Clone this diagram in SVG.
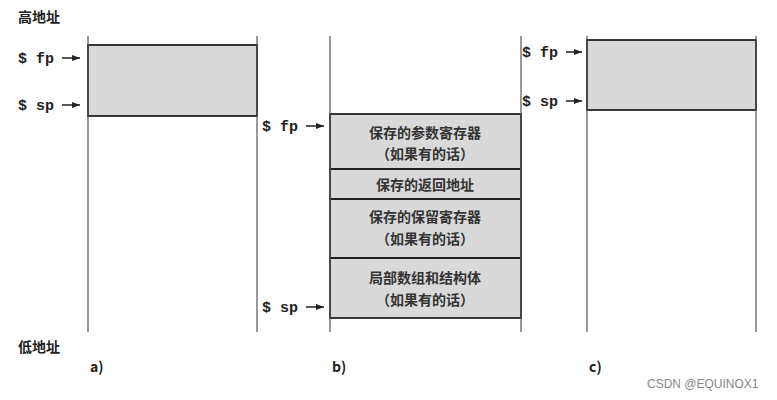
<svg xmlns="http://www.w3.org/2000/svg" width="777" height="400" viewBox="0 0 777 400">
<defs>
<marker id="ah" markerWidth="8" markerHeight="6" refX="8" refY="3" orient="auto" markerUnits="userSpaceOnUse"><path d="M0,0 L8,3 L0,6 Z" fill="#222"/></marker>
<style>
.v{stroke:#555;stroke-width:1.2}
.box{fill:#d9d9d9;stroke:#222;stroke-width:1.8}
.t{font-family:"Noto Sans CJK SC","Liberation Sans",sans-serif;font-size:14px;font-weight:bold;fill:#222}
.c{font-family:"Noto Sans CJK SC",sans-serif;font-size:14px;font-weight:bold;fill:#333;text-anchor:middle}
.r{font-family:"Liberation Mono","Noto Sans CJK SC",monospace;font-size:15px;font-weight:bold;fill:#222}
.a{stroke:#222;stroke-width:1.5;marker-end:url(#ah)}
</style>
</defs>
<rect width="777" height="400" fill="#fff"/>
<text class="t" x="18" y="22">高地址</text>
<text class="t" x="18" y="352">低地址</text>
<g id="panel-a">
<rect class="box" x="88" y="45" width="169" height="71"/>
<line class="v" x1="88" y1="36" x2="88" y2="332"/>
<line class="v" x1="257" y1="36" x2="257" y2="332"/>
<text class="r" x="18" y="63">$ fp</text>
<text class="r" x="18" y="110">$ sp</text>
<text class="t" x="90" y="372">a)</text>
</g>
<g id="panel-b">
<rect class="box" x="330" y="114" width="191" height="204"/>
<line class="box" x1="330" y1="169" x2="521" y2="169"/>
<line class="box" x1="330" y1="199" x2="521" y2="199"/>
<line class="box" x1="330" y1="258" x2="521" y2="258"/>
<line class="v" x1="330" y1="36" x2="330" y2="332"/>
<line class="v" x1="521" y1="36" x2="521" y2="332"/>
<text class="c" x="425" y="138">保存的参数寄存器</text>
<text class="c" x="425" y="159">（如果有的话）</text>
<text class="c" x="425" y="190">保存的返回地址</text>
<text class="c" x="425" y="222">保存的保留寄存器</text>
<text class="c" x="425" y="244">（如果有的话）</text>
<text class="c" x="425" y="283">局部数组和结构体</text>
<text class="c" x="425" y="305">（如果有的话）</text>
<text class="r" x="262" y="131">$ fp</text>
<text class="r" x="262" y="312">$ sp</text>
<text class="t" x="332" y="372">b)</text>
</g>
<g id="panel-c">
<rect class="box" x="587" y="40" width="169" height="70"/>
<line class="v" x1="587" y1="36" x2="587" y2="332"/>
<line class="v" x1="756" y1="36" x2="756" y2="332"/>
<text class="r" x="522" y="57">$ fp</text>
<text class="r" x="522" y="106">$ sp</text>
<text class="t" x="589" y="372">c)</text>
</g>
<g id="connectors">
<line class="a" x1="62" y1="58" x2="80" y2="58"/>
<line class="a" x1="62" y1="105" x2="80" y2="105"/>
<line class="a" x1="306" y1="126" x2="324" y2="126"/>
<line class="a" x1="306" y1="307" x2="324" y2="307"/>
<line class="a" x1="566" y1="52" x2="582" y2="52"/>
<line class="a" x1="566" y1="101" x2="582" y2="101"/>
</g>
<text x="647" y="388" font-family="Liberation Sans, sans-serif" font-size="12" fill="#888">CSDN @EQUINOX1</text>
</svg>
